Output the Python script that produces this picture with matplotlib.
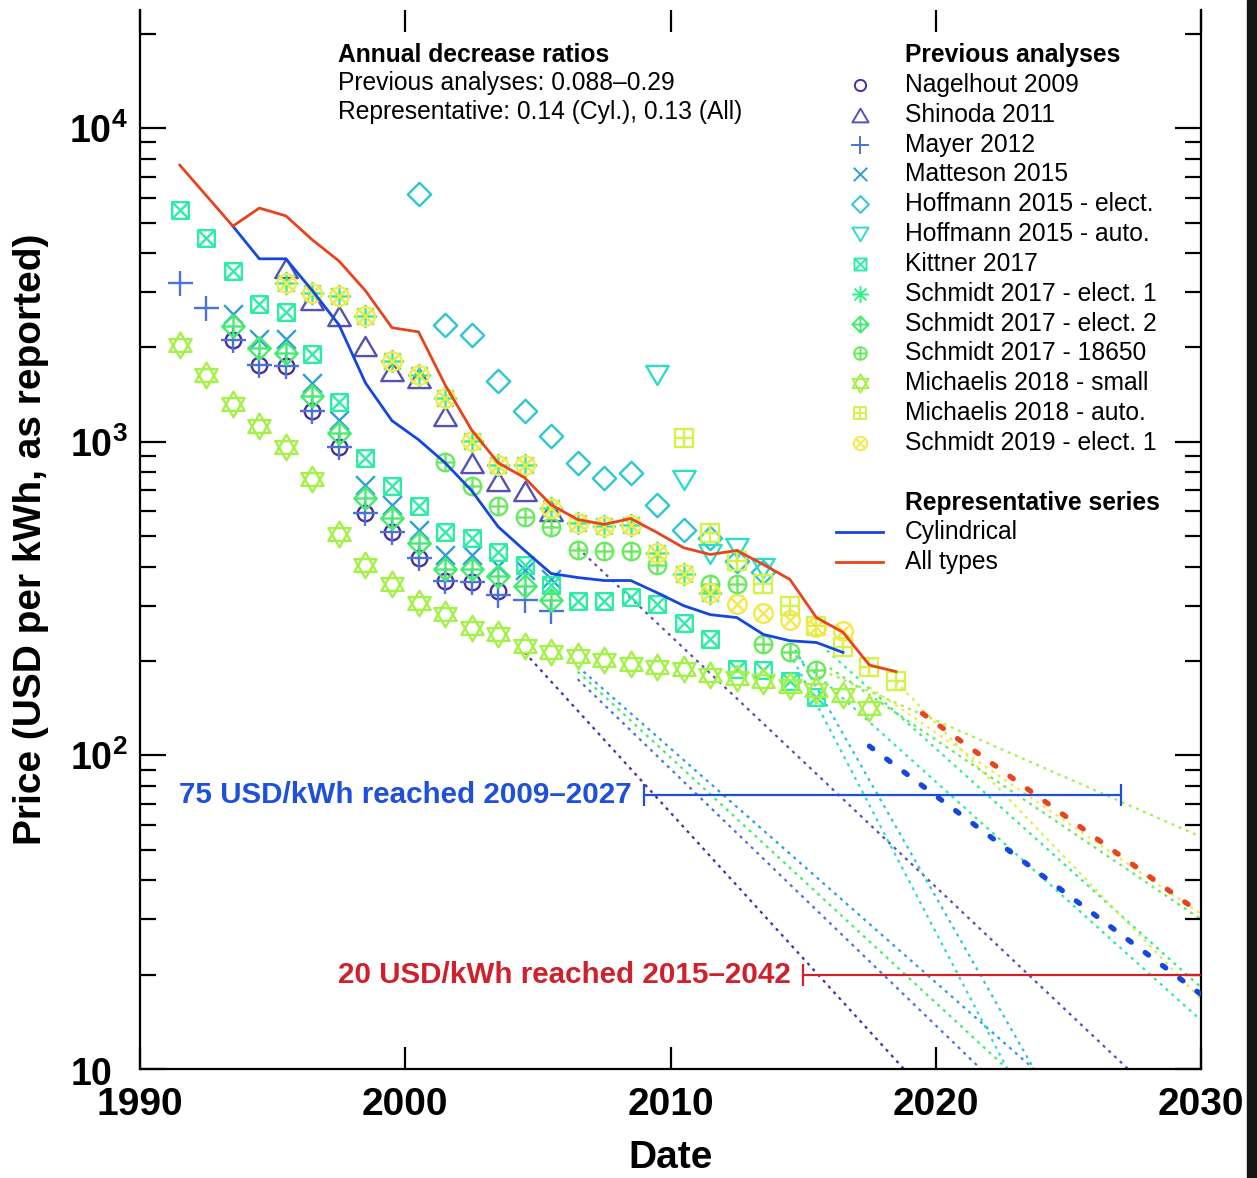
import numpy as np
import matplotlib
matplotlib.use("Agg")
import matplotlib.pyplot as plt
from matplotlib.path import Path
from matplotlib.patches import Rectangle
from matplotlib.ticker import LogLocator, NullFormatter, FixedLocator

plt.rcParams['font.family'] = ['Liberation Sans', 'DejaVu Sans']
plt.rcParams['mathtext.fontset'] = 'custom'
plt.rcParams['mathtext.rm'] = 'Liberation Sans'
plt.rcParams['mathtext.bf'] = 'Liberation Sans:bold'
plt.rcParams['lines.scale_dashes'] = False

# ---------------- data ----------------
series_names = ["Nagelhout 2009", "Shinoda 2011", "Mayer 2012", "Matteson 2015",
                "Hoffmann 2015 - elect.", "Hoffmann 2015 - auto.", "Kittner 2017",
                "Schmidt 2017 - elect. 1", "Schmidt 2017 - elect. 2", "Schmidt 2017 - 18650",
                "Michaelis 2018 - small", "Michaelis 2018 - auto.", "Schmidt 2019 - elect. 1"]

nagelhout_start = 1993.5
nagelhout = [2110, 1757, 1745, 1256, 964, 594, 517, 427, 361, 356, 335]
shinoda_start = 1995.5
shinoda = [3580, 2830, 2520, 2020, 1683, 1600, 1211, 857, 751, 699, 603]
mayer_start = 1991.5
mayer = [3210, 2670, 2110, 1757, 1745, 1256, 964, 594, 517, 427, 361, 356, 325, 314, 288]
matteson_start = 1993.5
matteson = [2560, 2130, 2130, 1542, 1175, 730, 630, 525, 434, 434, 403, 391, 364]
hoff_elect_start = 2000.5
hoff_elect = [6150, 2360, 2190, 1563, 1255, 1045, 857, 768, 796, 630, 525, 495, 418, 383]
hoff_auto_start = 2009.5
hoff_auto = [1635, 757, 437, 459, 397]
kittner_start = 1991.5
kittner = [5480, 4470, 3500, 2750, 2590, 1900, 1340, 890, 725, 625, 516, 495, 445, 405,
           350, 310, 310, 320, 303, 265, 235, 188, 187, 173, 153]
schmidt_e1_start = 1995.5
schmidt_e1 = [3210, 2980, 2920, 2520, 1810, 1635, 1380, 1007, 846, 840, 617, 552, 540, 544,
              443, 380, 330]
schmidt_e2_start = 1993.5
schmidt_e2 = [2340, 1990, 1920, 1400, 1070, 664, 573, 477, 394, 394, 374, 348, 314]
schmidt_18650_start = 2001.5
schmidt_18650 = [863, 724, 625, 577, 536, 453, 447, 447, 405, np.nan, 351, 351, 226, 213, 187]
mich_small_start = 1991.5
mich_small = [2040, 1635, 1320, 1125, 964, 762, 509, 406, 353, 305, 283, 254, 243, 224, 214,
              207, 202, 196, 192, 188, 181, 177, 173, 166, 162, 156, 142]
mich_auto_start = 2010.5
mich_auto = [1030, 513, 418, 351, 299, 258, 222, 191, 172]
schmidt19_start = 1995.5
schmidt19 = [3210, 2980, 2920, 2520, 1810, 1635, 1380, 1007, 846, 840, 617, 552, 540, 544,
             443, 380, 330, 303, 285, 271, 256, 250]

series_starts = [nagelhout_start, shinoda_start, mayer_start, matteson_start, hoff_elect_start,
                 hoff_auto_start, kittner_start, schmidt_e1_start, schmidt_e2_start,
                 schmidt_18650_start, mich_small_start, mich_auto_start, schmidt19_start]
series_values = [nagelhout, shinoda, mayer, matteson, hoff_elect, hoff_auto, kittner,
                 schmidt_e1, schmidt_e2, schmidt_18650, mich_small, mich_auto, schmidt19]

# projections of previous analyses: (start year, start value, end year, end value)
proj_x0 = [2004.5, 2006.5, 2006.5, 2006.5, 2014.7, 2014.5, 2014.5, 2015.9, 2006.5, 2016.0, 2016.0, 2018.5, 2017.5]
proj_y0 = [213, 459, 175, 192, 217, 212, 216, 216, 185, 190, 182, 172, 165]
proj_x1 = [2018.8, 2027.25, 2021.7, 2023.7, 2023.7, 2022.7, 2030, 2030, 2022.7, 2030, 2030, 2030, 2030]
proj_y1 = [10, 10, 10, 10, 10, 10, 14.3, 18.2, 10, 30, 55, 16.7, 31.2]

# representative series
cyl_x = [1993.5, 1994.5, 1995.5, 1996.5, 1997.5, 1998.5, 1999.5, 2000.5, 2001.5, 2002.5,
         2003.5, 2004.5, 2005.5, 2006.5, 2007.5, 2008.5, 2009.5, 2010.5, 2011.5, 2012.5,
         2013.5, 2014.5, 2015.5, 2016.5]
cyl_y = [4870, 3830, 3830, 3030, 2360, 1540, 1167, 1015, 857, 699, 536, 450, 380, 369, 361,
         361, 330, 300, 281, 275, 243, 232, 229, 213]
all_x = [1991.5, 1993.5, 1994.5, 1995.5, 1996.5, 1997.5, 1998.5, 1999.5, 2000.5, 2001.5,
         2002.5, 2003.5, 2004.5, 2005.5, 2006.5, 2007.5, 2008.5, 2009.5, 2010.5, 2011.5,
         2012.5, 2013.5, 2014.5, 2015.5, 2016.5, 2017.5, 2018.5]
all_y = [7620, 4870, 5560, 5250, 4400, 3770, 3030, 2310, 2240, 1520, 1091, 857, 768, 629, 565,
         545, 569, 513, 459, 437, 450, 406, 364, 275, 247, 194, 185]
cyl_proj_x = [2017.5, 2030]
cyl_proj_y = [107, 17.3]
all_proj_x = [2019.5, 2030]
all_proj_y = [136, 31.3]

# thresholds
reach75_val, reach75_lo, reach75_hi = 75, 2009, 2027
reach20_val, reach20_lo, reach20_hi = 20, 2015, 2042

xtick_vals = [1990, 2000, 2010, 2020, 2030]
ytick_vals = [10, 100, 1000, 10000]

# ---------------- styles ----------------
colors = ["#4B2D9E", "#5551B5", "#4B72D6", "#2E9ED8", "#2EC6D2", "#2EDCC8", "#2EEBA5",
          "#30F08A", "#45EB6E", "#68EA5C", "#A6F04A", "#D4F24A", "#F5E84A"]
c_cyl = "#1446E0"
c_all = "#E8431E"
c_75 = "#1E50DC"
c_20 = "#D0202C"


def seg(p0, p1):
    return Path([p0, p1], [Path.MOVETO, Path.LINETO])


def poly(pts):
    pts = list(pts) + [pts[0]]
    codes = [Path.MOVETO] + [Path.LINETO] * (len(pts) - 2) + [Path.CLOSEPOLY]
    return Path(pts, codes)


comp = Path.make_compound_path
circ = Path.unit_circle()
square = poly([(-1, -1), (1, -1), (1, 1), (-1, 1)])
plus = comp(seg((-1, 0), (1, 0)), seg((0, -1), (0, 1)))
cross = comp(seg((-1, -1), (1, 1)), seg((-1, 1), (1, -1)))
diamond = poly([(0, 1), (1, 0), (0, -1), (-1, 0)])
r = 0.7071
m_circle = circ
m_tri_up = poly([(0, 0.85), (-1, -0.85), (1, -0.85)])
m_plus = plus
m_cross = cross
m_diamond = diamond
m_tri_down = poly([(-1, 0.85), (1, 0.85), (0, -0.85)])
m_sq_x = comp(square, cross)
m_aster = comp(seg((-1, 0), (1, 0)), seg((0, -1), (0, 1)), seg((-r, -r), (r, r)), seg((-r, r), (r, -r)))
m_diam_plus = comp(diamond, plus)
m_circ_plus = comp(circ, plus)
m_hexagram = comp(poly([(0, 1), (-0.866, -0.5), (0.866, -0.5)]), poly([(0, -1), (-0.866, 0.5), (0.866, 0.5)]))
m_sq_plus = comp(square, plus)
m_circ_x = comp(circ, seg((-r, -r), (r, r)), seg((-r, r), (r, -r)))

markers = [m_circle, m_tri_up, m_plus, m_cross, m_diamond, m_tri_down, m_sq_x, m_aster,
           m_diam_plus, m_circ_plus, m_hexagram, m_sq_plus, m_circ_x]
msizes = [11.2, 16.2, 18, 13.5, 16.8, 16.2, 12, 16.8, 16.2, 12.6, 18.5, 12.6, 13.4]

# ---------------- figure ----------------
W, H = 1257, 1178
fig = plt.figure(figsize=(W / 100, H / 100), dpi=100)
ax = fig.add_axes([140 / W, 1 - 1069 / H, (1201 - 140) / W, (1069 - 10) / H])
ax.set_yscale('log')
ax.set_xlim(1990, 2030)
ax.set_ylim(10, 2.38e4)

# projections (thin dotted)
for i in range(len(series_names)):
    ax.plot([proj_x0[i], proj_x1[i]], [proj_y0[i], proj_y1[i]], color=colors[i], lw=1.6,
            dashes=(2.2, 3.4), zorder=1.5)

# markers
for i in range(len(series_names)):
    vals = np.array(series_values[i], dtype=float)
    xs = series_starts[i] + np.arange(len(vals))
    ax.plot(xs, vals, linestyle='none', marker=markers[i], ms=msizes[i], mec=colors[i],
            mfc='none', mew=1.7, zorder=2 + i * 0.01)

# representative series
ax.plot(cyl_x, cyl_y, color=c_cyl, lw=2.0, zorder=4)
ax.plot(all_x, all_y, color=c_all, lw=2.0, zorder=4)
ax.plot(cyl_proj_x, cyl_proj_y, color=c_cyl, lw=3.8, dashes=(3.0, 12.5), dash_capstyle='round', zorder=4)
ax.plot(all_proj_x, all_proj_y, color=c_all, lw=3.8, dashes=(3.0, 12.5), dash_capstyle='round', zorder=4)

# threshold ranges
ax.errorbar([reach75_lo], [reach75_val], xerr=[[0], [reach75_hi - reach75_lo]], fmt='none',
            ecolor=c_75, elinewidth=1.6, capsize=8, capthick=1.6, zorder=5)
ax.errorbar([reach20_lo], [reach20_val], xerr=[[0], [reach20_hi - reach20_lo]], fmt='none',
            ecolor=c_20, elinewidth=1.6, capsize=8, capthick=1.6, zorder=5)
ax.annotate(f"{reach75_val} USD/kWh reached {reach75_lo}\u2013{reach75_hi}",
            xy=(reach75_lo, reach75_val), xytext=(-9, 0), textcoords='offset points',
            ha='right', va='center', fontsize=21.3, fontweight='bold', color=c_75)
ax.annotate(f"{reach20_val} USD/kWh reached {reach20_lo}\u2013{reach20_hi}",
            xy=(reach20_lo, reach20_val), xytext=(-9, 0), textcoords='offset points',
            ha='right', va='center', fontsize=21.3, fontweight='bold', color=c_20)

# axes styling
for s in ['left', 'right', 'bottom']:
    ax.spines[s].set_linewidth(1.6)
ax.spines['top'].set_visible(False)
ax.xaxis.set_major_locator(FixedLocator(xtick_vals))
ax.set_xticklabels([str(v) for v in xtick_vals], fontsize=28, fontweight='bold')
ax.yaxis.set_major_locator(FixedLocator(ytick_vals))
ylabels = []
for v in ytick_vals:
    e = int(round(np.log10(v)))
    ylabels.append('' if e == 1 else r'$\mathbf{10^{%d}}$' % e)
ax.set_yticklabels(ylabels, fontsize=27)
# the lowest decade label is written without exponent, aligned with the other "10"s
ax.annotate('10', xy=(0, ytick_vals[0]), xycoords=('axes fraction', 'data'),
            xytext=(-20, -4), textcoords='offset points', ha='right', va='center',
            fontsize=27, fontweight='bold', annotation_clip=False)
ax.yaxis.set_minor_locator(LogLocator(base=10, subs=np.arange(2, 10)))
ax.yaxis.set_minor_formatter(NullFormatter())
ax.tick_params(axis='y', which='major', direction='in', length=19, width=1.6, left=True, right=True, pad=9)
ax.tick_params(axis='y', which='minor', direction='in', length=11.5, width=1.6, left=True, right=True)
ax.tick_params(axis='x', which='major', direction='in', length=16, width=1.6, top=True, bottom=True, pad=13)
ax.tick_params(axis='x', which='minor', top=False, bottom=False)
ax.set_xlabel('Date', fontsize=28, fontweight='bold', labelpad=12)
ax.set_ylabel('Price (USD per kWh, as reported)', fontsize=28, fontweight='bold', labelpad=14)

# annotation block
def fy(ypx):
    return (1069 - ypx) / (1069 - 10)

def fx(xpx):
    return (xpx - 140) / (1201 - 140)

ax.text(fx(338), fy(55), 'Annual decrease ratios', transform=ax.transAxes, fontsize=17.7,
        fontweight='bold', ha='left', va='center')
ax.text(fx(338), fy(83), 'Previous analyses: 0.088\u20130.29', transform=ax.transAxes,
        fontsize=17.7, ha='left', va='center')
ax.text(fx(338), fy(112), 'Representative: 0.14 (Cyl.), 0.13 (All)', transform=ax.transAxes,
        fontsize=17.7, ha='left', va='center')

# legend (manual layout)
tx, mx = fx(905), fx(860)
ax.text(tx, fy(55), 'Previous analyses', transform=ax.transAxes, fontsize=17.7,
        fontweight='bold', ha='left', va='center')
for i, name in enumerate(series_names):
    yy = fy(85 + 29.83 * i)
    ax.plot([mx], [yy], transform=ax.transAxes, clip_on=False, linestyle='none',
            marker=markers[i], ms=msizes[i] * 0.72, mec=colors[i], mfc='none', mew=1.4)
    ax.text(tx, yy, name, transform=ax.transAxes, fontsize=17.7, ha='left', va='center')
ax.text(tx, fy(503), 'Representative series', transform=ax.transAxes, fontsize=17.7,
        fontweight='bold', ha='left', va='center')
for yp, name, c in [(532, 'Cylindrical', c_cyl), (562, 'All types', c_all)]:
    ax.plot([fx(836), fx(883)], [fy(yp), fy(yp)], transform=ax.transAxes, clip_on=False,
            color=c, lw=2.0)
    ax.text(tx, fy(yp), name, transform=ax.transAxes, fontsize=17.7, ha='left', va='center')

# dark strip at right edge of the reference image
fig.add_artist(Rectangle((1247 / W, 0), 10 / W, 1, transform=fig.transFigure,
                         color='#151515', zorder=10))

fig.savefig('out.png', dpi=100)
